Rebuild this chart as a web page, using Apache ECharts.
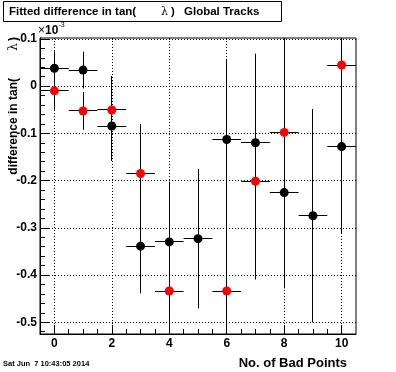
<!DOCTYPE html>
<html>
<head>
<meta charset="utf-8">
<script src="https://cdn.jsdelivr.net/npm/echarts@6/dist/echarts.min.js"></script>
<style>
html,body{margin:0;padding:0;background:#fff;}
#c{width:396px;height:372px;}
</style>
</head>
<body>
<div id="c"></div>
<script>
// ---- data (values in units of 1e-3) ----
const blackBins = [0, 1, 2, 3, 4, 5, 6, 7, 8, 9, 10];
const blackVals = [0.038, 0.034, -0.0845, -0.339, -0.330, -0.323, -0.113, -0.120, -0.2255, -0.2745, -0.128];
const blackErrs = [0.036, 0.039, 0.074, 0.100, 0.128, 0.148, 0.169, 0.189, 0.203, 0.226, 0.185];

const redBins = [0, 1, 2, 3, 4, 6, 7, 8, 10];
const redVals = [-0.010, -0.0526, -0.0504, -0.185, -0.434, -0.434, -0.2015, -0.098, 0.0447];
const redErrs = [0.040, 0.040, 0.072, 0.105, 0.13, 0.17, 0.208, 0.24, 0.2];

const xTickValues = [0, 2, 4, 6, 8, 10];
const xTickLabels = ['0', '2', '4', '6', '8', '10'];
const yTickValues = [-0.5, -0.4, -0.3, -0.2, -0.1, 0, 0.1];
const yTickLabels = ['-0.5', '-0.4', '-0.3', '-0.2', '-0.1', '0', '0.1'];

const titleText = 'Fitted difference in tan(';
const titleLambda = 'λ';
const titleClose = ')';
const titleTail = 'Global Tracks';
const xTitle = 'No. of Bad Points';
const yTitle = 'difference in tan(';
const dateText = 'Sat Jun  7 10:43:05 2014';

// minor tick positions
const xMinor = [];
for (let i = 1; i <= 20; i++) { const v = i * 0.5; if (v % 2 !== 0) xMinor.push(v); }
const yMinor = [];
for (let i = -26; i <= 5; i++) { const v = Math.round(i * 2) / 100; if (Math.abs(Math.round(v * 10) - v * 10) > 1e-6) yMinor.push(v); }

const FONT = '"Liberation Sans", Arial, Helvetica, sans-serif';

const chart = echarts.init(document.getElementById('c'), null, {renderer: 'canvas'});

function errItem(params, api) {
  const cs = params.coordSys;
  const x = api.value(0), y = api.value(1), e = api.value(2);
  const p = api.coord([x, y]);
  let t = api.coord([x, y + e])[1];
  let b = api.coord([x, y - e])[1];
  let l = api.coord([x - 0.5, y])[0];
  let r = api.coord([x + 0.5, y])[0];
  t = Math.max(t, cs.y); b = Math.min(b, cs.y + cs.height);
  l = Math.max(l, cs.x); r = Math.min(r, cs.x + cs.width);
  const cx = Math.round(p[0] - 0.5) + 0.5;
  const cy = Math.round(p[1] - 0.5) + 0.5;
  const st = {stroke: '#000', lineWidth: 1};
  return {
    type: 'group',
    children: [
      {type: 'line', shape: {x1: cx, y1: t, x2: cx, y2: b}, style: st},
      {type: 'line', shape: {x1: l, y1: cy, x2: r, y2: cy}, style: st}
    ]
  };
}

const blackData = blackBins.map((b, i) => [b, blackVals[i], blackErrs[i]]);
const redData = redBins.map((b, i) => [b, redVals[i], redErrs[i]]);

const axisLabelStyle = {color: '#000', fontFamily: FONT, fontWeight: 'bold', fontSize: 12};

const option = {
  backgroundColor: '#fff',
  animation: false,
  grid: {left: 40, right: 40, top: 38, bottom: 38, show: true, borderColor: '#000', borderWidth: 1, backgroundColor: '#fff'},
  xAxis: [
    {
      type: 'value', min: -0.5, max: 10.5, position: 'bottom',
      axisLine: {show: true, onZero: false, lineStyle: {color: '#000', width: 1}},
      axisTick: {show: true, inside: true, length: 9, customValues: xTickValues, lineStyle: {color: '#000', width: 1}},
      axisLabel: Object.assign({customValues: xTickValues, margin: 4,
        formatter: v => { const i = xTickValues.findIndex(t => Math.abs(t - v) < 1e-9); return i >= 0 ? xTickLabels[i] : ''; }}, axisLabelStyle),
      splitLine: {show: true, lineStyle: {color: '#000', width: 1, type: [1, 2]}}
    },
    {
      type: 'value', min: -0.5, max: 10.5, position: 'bottom',
      axisLine: {show: false, onZero: false},
      axisTick: {show: true, inside: true, length: 5, customValues: xMinor, lineStyle: {color: '#000', width: 1}},
      axisLabel: {show: false},
      splitLine: {show: false}
    }
  ],
  yAxis: [
    {
      type: 'value', min: -0.525, max: 0.102, position: 'left',
      axisLine: {show: true, onZero: false, lineStyle: {color: '#000', width: 1}},
      axisTick: {show: true, inside: true, length: 9, customValues: yTickValues, lineStyle: {color: '#000', width: 1}},
      axisLabel: Object.assign({customValues: yTickValues, margin: 3,
        formatter: v => { const i = yTickValues.findIndex(t => Math.abs(t - v) < 1e-9); return i >= 0 ? yTickLabels[i] : ''; }}, axisLabelStyle),
      splitLine: {show: true, lineStyle: {color: '#000', width: 1, type: [1, 2]}}
    },
    {
      type: 'value', min: -0.525, max: 0.102, position: 'left',
      axisLine: {show: false, onZero: false},
      axisTick: {show: true, inside: true, length: 5, customValues: yMinor, lineStyle: {color: '#000', width: 1}},
      axisLabel: {show: false},
      splitLine: {show: false}
    }
  ],
  series: [
    {type: 'custom', renderItem: errItem, data: blackData, encode: {x: 0, y: 1}, z: 2},
    {type: 'scatter', data: blackData.map(d => [d[0], d[1]]), symbol: 'circle', symbolSize: 9,
     itemStyle: {color: '#000', opacity: 1}, z: 3},
    {type: 'custom', renderItem: errItem, data: redData, encode: {x: 0, y: 1}, z: 4},
    {type: 'scatter', data: redData.map(d => [d[0], d[1]]), symbol: 'circle', symbolSize: 9,
     itemStyle: {color: '#ff0000', opacity: 1}, z: 5}
  ],
  graphic: [
    {type: 'rect', shape: {x: 3.5, y: 1.5, width: 278, height: 20}, style: {fill: '#fff', stroke: '#000', lineWidth: 1}, z: 10},
    {type: 'text', x: 9, y: 12, style: {text: titleText, font: 'bold 11.5px ' + FONT, fill: '#000', verticalAlign: 'middle', align: 'left'}, z: 11},
    {type: 'text', x: 161, y: 12, style: {text: titleLambda, font: '11px "DejaVu Serif", serif', fill: '#000', verticalAlign: 'middle', align: 'left'}, z: 11},
    {type: 'text', x: 171, y: 12, style: {text: titleClose, font: 'bold 11.5px ' + FONT, fill: '#000', verticalAlign: 'middle', align: 'left'}, z: 11},
    {type: 'text', x: 184, y: 12, style: {text: titleTail, font: 'bold 11.5px ' + FONT, fill: '#000', verticalAlign: 'middle', align: 'left'}, z: 11},
    // y axis title (rotated)
    {type: 'text', x: 14, y: 78, rotation: Math.PI / 2, style: {text: yTitle, font: 'bold 12px ' + FONT, fill: '#000', verticalAlign: 'middle', align: 'right'}, z: 11},
    {type: 'text', x: 14, y: 47, rotation: Math.PI / 2, style: {text: titleLambda, font: '12px "DejaVu Serif", serif', fill: '#000', verticalAlign: 'middle', align: 'center'}, z: 11},
    {type: 'text', x: 14, y: 37, rotation: Math.PI / 2, style: {text: titleClose, font: 'bold 12px ' + FONT, fill: '#000', verticalAlign: 'middle', align: 'right'}, z: 11},
    // exponent label
    {type: 'text', x: 38, y: 31, style: {text: '×', font: '12px ' + FONT, fill: '#000', verticalAlign: 'middle', align: 'left'}, z: 11},
    {type: 'text', x: 45, y: 31, style: {text: '10', font: 'bold 12px ' + FONT, fill: '#000', verticalAlign: 'middle', align: 'left'}, z: 11},
    {type: 'text', x: 58.5, y: 25.5, style: {text: '-3', font: '7px ' + FONT, fill: '#000', verticalAlign: 'middle', align: 'left'}, z: 11},
    // x axis title
    {type: 'text', x: 347, y: 363, style: {text: xTitle, font: 'bold 13px ' + FONT, fill: '#000', verticalAlign: 'middle', align: 'right'}, z: 11},
    // date stamp
    {type: 'text', x: 3, y: 364, style: {text: dateText, font: 'bold 7.5px ' + FONT, fill: '#000', verticalAlign: 'middle', align: 'left'}, z: 11}
  ]
};

chart.setOption(option);
</script>
</body>
</html>
